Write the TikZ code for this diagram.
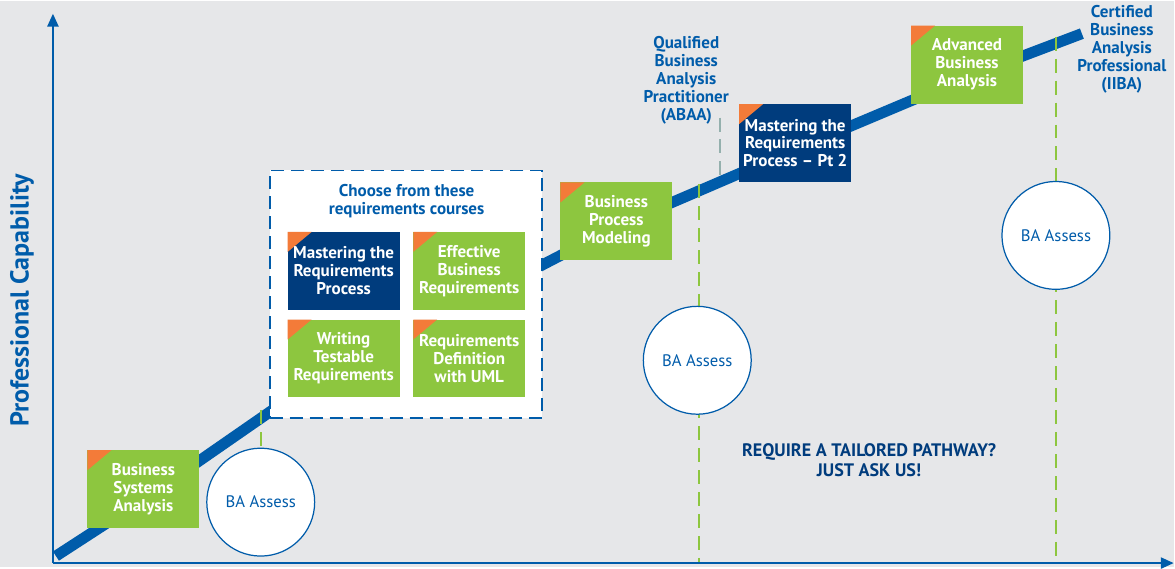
\documentclass[tikz,border=0pt]{standalone}
\usepackage{fontspec}
\setmainfont{PT Sans}
\usetikzlibrary{arrows.meta,positioning}

\definecolor{bagrey}{RGB}{230,231,233}
\definecolor{bablue}{RGB}{0,92,170}
\definecolor{banavy}{RGB}{0,60,125}
\definecolor{bagreen}{RGB}{141,198,63}
\definecolor{baorange}{RGB}{243,123,57}
\definecolor{bateal}{RGB}{148,176,173}

\begin{document}
\begin{tikzpicture}[x=0.02cm,y=-0.02cm,>={Triangle[length=0.26cm,width=0.22cm]},
    course node/.style={rectangle,fill=bagreen,text=white,align=center,inner sep=0pt,
      minimum width=2.24cm,minimum height=1.56cm,font=\fontsize{9.7}{10.2}\selectfont\bfseries,
      path picture={\fill[baorange] (path picture bounding box.north west)
        -- ++(0.48cm,0) -- ++(-0.48cm,-0.4cm) -- cycle;}},
    navy node/.style={course node,fill=banavy},
    assess node/.style={circle,draw=bablue,line width=0.7pt,fill=white,inner sep=0pt,
      minimum size=2.16cm,text=bablue,font=\fontsize{9.5}{11}\selectfont},
    title node/.style={text=bablue,align=center,font=\fontsize{9.7}{10.2}\selectfont\bfseries},
    path line/.style={bablue,line width=0.22cm,line join=round},
    check line/.style={bagreen,line width=1.1pt,dash pattern=on 0.28cm off 0.16cm},
    axis line/.style={bablue,line width=1.4pt,->}]

    \fill[bagrey] (0,0) rectangle (1175,567);

    % Career pathway
    \coordinate (p0) at (56,556);
    \coordinate (p1) at (150,495);
    \coordinate (p2) at (300,391);
    \coordinate (p3) at (617,226);
    \coordinate (p4) at (796,149);
    \coordinate (p5) at (967,77);
    \coordinate (p6) at (1083,33);
    \draw[path line] (p0) -- (p1) -- (p2) -- (p3) -- (p4) -- (p5) -- (p6);

    % Assessment points
    \foreach \i/\x/\y in {1/261/410, 2/700/184, 3/1057/36} {
      \coordinate (top\i) at (\x,\y);
      \coordinate (bot\i) at (\x,563);
      \draw[check line] (top\i) -- (bot\i);
    }
    \coordinate (q0) at (721,117);
    \coordinate (q1) at (721,182);
    \draw[bateal,line width=1.1pt,dash pattern=on 0.28cm off 0.16cm] (q0) -- (q1);

    % Axes
    \coordinate (o) at (53,563);
    \coordinate (ytip) at (53,13);
    \coordinate (xtip) at (1175,563);
    \draw[axis line] (o) -- (ytip);
    \draw[axis line] (o) -- (xtip);

    % Courses
    \node[course node] (0) at (143.5,489) {Business\\Systems\\Analysis};
    \node[draw=bablue,fill=white,line width=1.1pt,dash pattern=on 0.26cm off 0.14cm,
      minimum width=5.46cm,minimum height=4.96cm] (1) at (406.5,294) {};
    \node[title node] (2) at (407,201) {Choose from these\\requirements courses};
    \node[navy node] (3) at (344,270.5) {Mastering the\\Requirements\\Process};
    \node[course node] (4) [right=0.26cm of 3] {Effective\\Business\\Requirements};
    \node[course node] (5) [below=0.18cm of 3] {Writing\\Testable\\Requirements};
    \node[course node] (6) [below=0.18cm of 4] {Requirements\\Definition\\with UML};
    \node[course node] (7) at (617,221) {Business\\Process\\Modeling};
    \node[navy node] (8) at (796,142.5) {Mastering the\\Requirements\\Process \textendash{} Pt 2};
    \node[course node] (9) at (968,64) {Advanced\\Business\\Analysis};

    % Assessments
    \node[assess node] (10) at (261,502) {BA Assess};
    \node[assess node] (11) at (698,360) {BA Assess};
    \node[assess node] (12) at (1057,235) {BA Assess};

    % Certifications and notes
    \node[title node] (13) at (687,80) {Qualified\\Business\\Analysis\\Practitioner\\(ABAA)};
    \node[title node] (14) at (1123,49) {Certified\\Business\\Analysis\\Professional\\(IIBA)};
    \node[rotate=90,text=bablue,font=\fontsize{14.8}{16}\selectfont\bfseries] (15) at (22,300) {Professional Capability};
    \node[text=banavy,align=center,font=\fontsize{10.3}{11.5}\selectfont\bfseries] (16) at (870,460)
      {REQUIRE A TAILORED PATHWAY?\\JUST ASK US!};
  \end{tikzpicture}
\end{document}
